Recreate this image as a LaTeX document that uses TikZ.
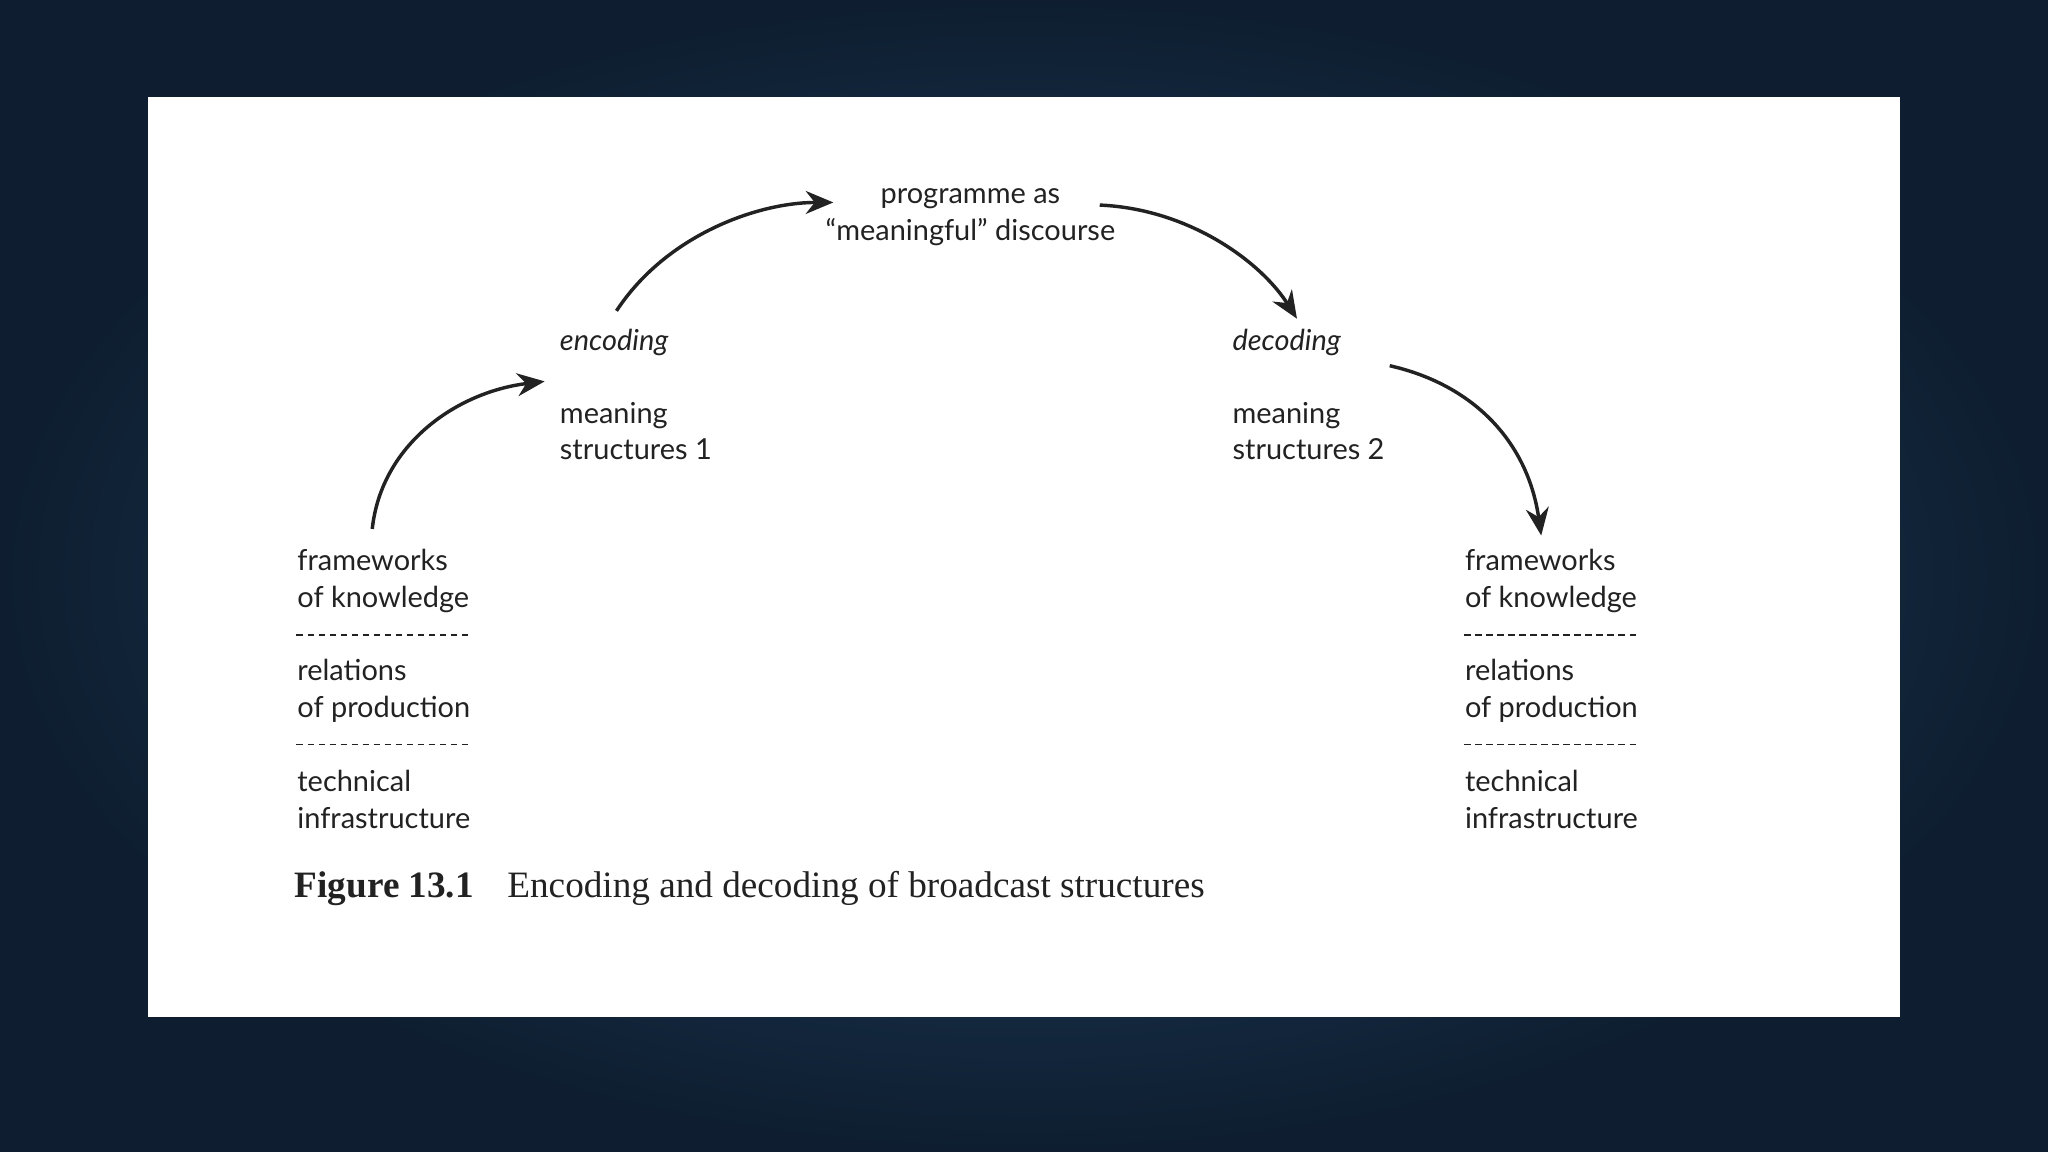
\documentclass[tikz,border=0pt]{standalone}
\usepackage{fontspec}
\setmainfont{Lato}
\newfontfamily\capfont{Liberation Serif}
\usetikzlibrary{arrows.meta}
\definecolor{bgc}{HTML}{24466A}
\definecolor{bgd}{HTML}{0E1E30}
\definecolor{ink}{HTML}{222222}
\tikzset{
  lbl/.style={anchor=base west,align=left,inner sep=0pt,text=ink,font=\fontsize{6.3}{7.97}\selectfont},
  arr/.style={ink,line width=0.75pt,-{Stealth[length=6pt,width=5pt]}},
  sep/.style={ink,dash pattern=on 1.4pt off 1.0pt,line width=0.35pt}
}
\begin{document}
\begin{tikzpicture}[x=0.01cm,y=-0.01cm]
\useasboundingbox (0,0) rectangle (1568,882);
\shade[inner color=bgc,outer color=bgd] (0,0) rectangle (1568,882);
\fill[white] (113,74) rectangle (1455,779);
% left block
\node[lbl] (lf) at (227,465) {frameworks\\of knowledge};
\draw[sep] (227,486) -- (361,486);
\node[lbl] (lr) at (227,549) {relations\\of production};
\draw[sep] (227,570) -- (361,570);
\node[lbl] (lt) at (227,634) {technical\\infrastructure};
% right block
\node[lbl] (rf) at (1121,465) {frameworks\\of knowledge};
\draw[sep] (1121,486) -- (1255,486);
\node[lbl] (rr) at (1121,549) {relations\\of production};
\draw[sep] (1121,570) -- (1255,570);
\node[lbl] (rt) at (1121,634) {technical\\infrastructure};
% middle
\node[lbl] (enc) at (428,268) {\itshape encoding};
\node[lbl] (ms1) at (428,352) {meaning\\structures 1};
\node[lbl] (dec) at (943,268) {\itshape decoding};
\node[lbl] (ms2) at (943,352) {meaning\\structures 2};
\node[lbl,align=center,anchor=base] (prog) at (743,184) {programme as\\``meaningful'' discourse};
% arrows
\coordinate (a1) at (285,405); \coordinate (a2) at (417,292);
\coordinate (b1) at (472,238); \coordinate (b2) at (638,155);
\coordinate (c1) at (842,157); \coordinate (c2) at (993,244);
\coordinate (d1) at (1064,280); \coordinate (d2) at (1180,410);
\draw[arr] (a1) .. controls (292,340) and (350,300) .. (a2);
\draw[arr] (b1) .. controls (510,180) and (580,155) .. (b2);
\draw[arr] (c1) .. controls (910,160) and (965,200) .. (c2);
\draw[arr] (d1) .. controls (1130,295) and (1170,340) .. (d2);
% caption
\node[anchor=base west,inner sep=0pt,text=ink,font=\capfont\fontsize{8.1}{9}\selectfont] (cap) at (225,687) {\textbf{Figure 13.1}\hspace{0.9em}Encoding and decoding of broadcast structures};
\end{tikzpicture}
\end{document}
